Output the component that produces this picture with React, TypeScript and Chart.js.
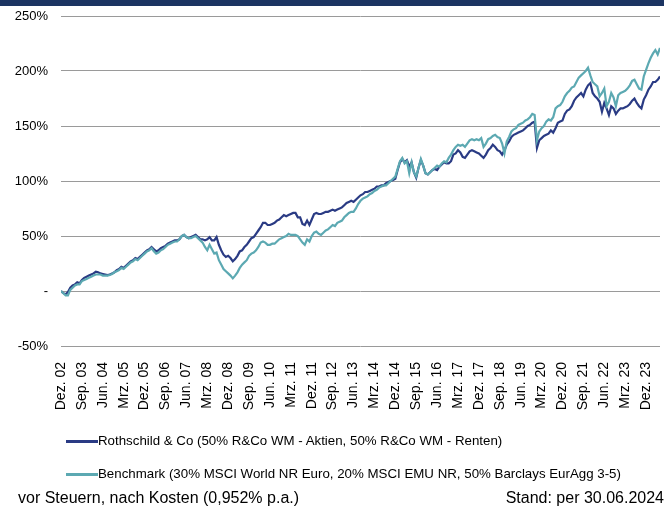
import React, { useEffect, useRef } from 'react';
import { Chart, registerables } from 'chart.js';

Chart.register(...registerables);

const tickLabels = [
  'Dez. 02', 'Sep. 03', 'Jun. 04', 'Mrz. 05', 'Dez. 05', 'Sep. 06', 'Jun. 07', 'Mrz. 08',
  'Dez. 08', 'Sep. 09', 'Jun. 10', 'Mrz. 11', 'Dez. 11', 'Sep. 12', 'Jun. 13', 'Mrz. 14',
  'Dez. 14', 'Sep. 15', 'Jun. 16', 'Mrz. 17', 'Dez. 17', 'Sep. 18', 'Jun. 19', 'Mrz. 20',
  'Dez. 20', 'Sep. 21', 'Jun. 22', 'Mrz. 23', 'Dez. 23',
];
const TICK_EVERY = 9;

const yTickValues = [-50, 0, 50, 100, 150, 200, 250];

// monthly performance in %, Dez. 2002 .. Jun. 2024
const rothschild = [
  0, -2, -3, -1, 3, 5, 6, 8, 7, 10, 12, 13, 14,
  15, 16, 17.5, 17, 16, 15.5, 15, 14.5, 15, 16, 17, 19,
  20, 22, 21, 23, 25, 27, 28, 30, 29, 31, 33, 35,
  37, 38, 40, 38, 36, 37, 39, 40, 41, 43, 44, 45,
  46, 46, 47, 50, 51, 49, 48, 49, 50, 51, 49, 47,
  47, 46, 47, 49, 46, 46, 49, 42, 37, 33, 31, 32,
  30, 27, 29, 32, 36, 37, 40, 42, 45, 48, 49, 52,
  55, 58, 62, 62, 60, 60, 61, 62, 64, 65, 67, 69,
  68, 69, 70, 71, 71, 67, 67, 61, 60, 64, 60, 65,
  70, 71, 70, 70, 71, 72, 72, 73, 74, 73, 74, 75,
  76, 78, 80, 81, 82, 81, 83, 85, 87, 88, 90, 90,
  91, 92, 93, 95, 95, 96, 96, 98, 99, 100, 101, 102,
  110, 117, 120, 117, 119, 113, 117, 108, 103, 112, 119, 114,
  107, 106, 108, 110, 111, 110, 113, 115, 117, 116, 116, 118,
  124, 125, 128, 126, 122, 121, 124, 127, 128, 127, 126, 125,
  123, 121, 124, 128, 130, 133, 131, 128, 127, 124, 128, 133,
  136, 140, 142, 143, 144, 145, 146, 148, 150, 151, 153, 154,
  130, 137, 139, 141, 142, 143, 146, 144, 148, 153, 154, 155,
  161, 164, 165, 168, 173, 176, 178, 180, 177, 183, 187, 189,
  180, 177, 175, 172, 163, 171, 166, 160, 168, 166, 161, 164,
  166, 166, 167, 168, 170, 173, 175, 171, 168, 166, 174, 178,
  183, 186, 190, 190, 192, 195,
];

const benchmark = [
  0, -2, -4, -4, 1, 3, 5, 6, 6, 9, 10, 11, 12,
  13, 14, 15, 15, 15, 14, 14, 14, 14.5, 15.5, 17, 18,
  19, 21, 20, 22, 24, 26, 27, 29, 28, 30, 32, 34,
  36, 37, 39, 36, 34, 35, 37, 38, 40, 42, 43, 44,
  45, 45, 47, 50, 51, 49, 48, 48, 49, 50, 48, 46,
  44, 40, 37, 42, 38, 34, 35, 28, 24, 20, 18, 16,
  14, 11.5, 14, 17, 21, 24, 26, 28, 32, 34, 35, 37,
  40, 44, 45, 44, 42, 42, 43, 43, 45, 47, 48, 49,
  50, 52, 51, 51, 51, 50, 47, 44, 42, 47, 45, 50,
  53, 54, 52, 51, 53, 55, 56, 58, 60, 59, 62, 63,
  64, 67, 69, 71, 72, 72, 75, 79, 82, 84, 85, 86,
  88, 89, 91, 92, 94, 95, 96, 96, 98, 100, 102, 104,
  111, 118, 121, 116, 118, 107, 117, 108, 104, 112, 120, 114,
  107, 106, 108, 110, 112, 114, 113, 116, 118, 117, 121, 124,
  128, 131, 133, 132, 133, 131, 134, 137, 138, 137, 138, 137,
  139, 131, 134, 138, 139, 141, 142, 140, 139, 134, 125, 136,
  140, 145, 147, 148, 151, 152, 153, 155, 156, 158, 161, 160,
  137, 145, 148, 150, 154, 156, 155, 158, 166, 168, 169, 172,
  177, 180, 182, 185, 186, 190, 194, 196, 198, 200, 203, 196,
  190, 188, 186, 177, 180, 184, 168, 172, 180, 176, 168, 178,
  180, 181, 182, 184, 187, 191, 192, 188, 184, 183, 195, 201,
  207, 212, 216, 219, 215, 221,
];

const NAVY = '#2a3b84';
const CYAN = '#5ca9b2';
const FONT = "'Liberation Sans', Arial, sans-serif";

const zeroPadding = (axis: any) => {
  axis.paddingTop = 0;
  axis.paddingBottom = 0;
  axis.paddingLeft = 0;
  axis.paddingRight = 0;
};

export default function App() {
  const ref = useRef<HTMLCanvasElement>(null);

  useEffect(() => {
    const canvas = ref.current;
    if (!canvas) return;
    const chart = new Chart(canvas, {
      type: 'line',
      data: {
        datasets: [
          {
            label: 'Benchmark',
            data: benchmark.map((v, i) => ({ x: i, y: v })),
            borderColor: CYAN,
            backgroundColor: CYAN,
            borderWidth: 2.2,
            pointRadius: 0,
            tension: 0,
          },
          {
            label: 'Rothschild & Co',
            data: rothschild.map((v, i) => ({ x: i, y: v })),
            borderColor: NAVY,
            backgroundColor: NAVY,
            borderWidth: 2.2,
            pointRadius: 0,
            tension: 0,
          },
        ],
      },
      options: {
        animation: false,
        responsive: false,
        maintainAspectRatio: false,
        devicePixelRatio: 1,
        layout: { padding: { top: 16, right: 4, left: 0, bottom: 0 } },
        plugins: { legend: { display: false }, tooltip: { enabled: false } },
        scales: {
          x: {
            type: 'linear',
            min: 0,
            max: rothschild.length - 1,
            grid: { display: false },
            border: { display: false },
            afterBuildTicks: (axis: any) => {
              axis.ticks = tickLabels.map((_, k) => ({ value: k * TICK_EVERY }));
            },
            afterFit: (axis: any) => {
              axis.height = 162;
              zeroPadding(axis);
            },
            ticks: {
              autoSkip: false,
              maxRotation: 90,
              minRotation: 90,
              padding: 8,
              color: '#000',
              font: { family: FONT, size: 14 },
              callback: (v: any) => tickLabels[Math.round(Number(v) / TICK_EVERY)] ?? '',
            },
          },
          y: {
            min: -50,
            max: 250,
            afterBuildTicks: (axis: any) => {
              axis.ticks = yTickValues.map((v) => ({ value: v }));
            },
            afterFit: (axis: any) => {
              axis.width = 61;
              zeroPadding(axis);
            },
            grid: { color: '#9a9a9a', lineWidth: 1, drawTicks: false },
            border: { display: false },
            ticks: {
              padding: 13,
              color: '#000',
              font: { family: FONT, size: 13 },
              callback: (v: any) => (Number(v) === 0 ? '-' : `${v}%`),
            },
          },
        },
      },
    });
    return () => chart.destroy();
  }, []);

  const legendText: React.CSSProperties = {
    position: 'absolute',
    left: 98,
    fontFamily: FONT,
    fontSize: 13.3,
    lineHeight: '16px',
    color: '#000',
    whiteSpace: 'nowrap',
  };
  const footer: React.CSSProperties = {
    position: 'absolute',
    top: 490,
    fontFamily: FONT,
    fontSize: 16,
    lineHeight: '16px',
    color: '#000',
    whiteSpace: 'nowrap',
  };

  return (
    <div style={{ position: 'absolute', left: 0, top: 0, width: 664, height: 508, overflow: 'hidden', background: '#fff' }}>
      <div style={{ position: 'absolute', left: 0, top: 0, width: 664, height: 6, background: '#1c3462' }} />
      <canvas ref={ref} width={664} height={508} style={{ position: 'absolute', left: 0, top: 0, width: 664, height: 508 }} />
      <div style={{ position: 'absolute', left: 66, top: 440, width: 32, height: 2.5, background: NAVY }} />
      <div style={{ ...legendText, top: 433 }}>Rothschild &amp; Co (50% R&amp;Co WM - Aktien, 50% R&amp;Co WM - Renten)</div>
      <div style={{ position: 'absolute', left: 66, top: 473, width: 32, height: 2.5, background: CYAN }} />
      <div style={{ ...legendText, top: 466 }}>Benchmark (30% MSCI World NR Euro, 20% MSCI EMU NR, 50% Barclays EurAgg 3-5)</div>
      <div style={{ ...footer, left: 18 }}>vor Steuern, nach Kosten (0,952% p.a.)</div>
      <div style={{ ...footer, right: 0 }}>Stand: per 30.06.2024</div>
    </div>
  );
}
